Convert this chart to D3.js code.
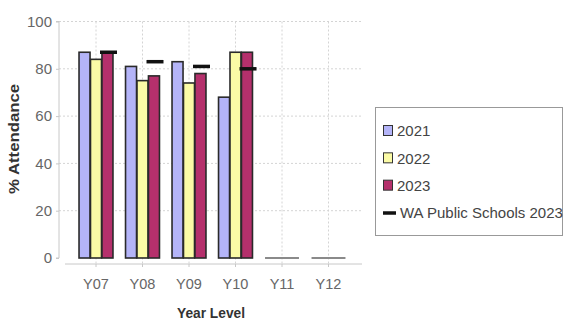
<!DOCTYPE html>
<html>
<head>
<meta charset="utf-8">
<script src="https://cdn.jsdelivr.net/npm/d3@7"></script>
<style>
  html, body { margin: 0; padding: 0; background: #fff; }
  svg { display: block; font-family: "Liberation Sans", Arial, sans-serif; }
</style>
</head>
<body>
<svg id="chart" width="564" height="323"></svg>
<script>
// Attendance by year level
const yearLevels = ["Y07", "Y08", "Y09", "Y10", "Y11", "Y12"];
const seriesNames = ["2021", "2022", "2023"];
const att2021 = [87, 81, 83, 68, 0, 0];
const att2022 = [84, 75, 74, 87, 0, 0];
const att2023 = [87, 77, 78, 87, 0, 0];
const waPublic2023 = [87, 83, 81, 80, null, null];
const yTicks = [0, 20, 40, 60, 80, 100];
const seriesColors = ["#b4b4f8", "#fbfba6", "#b5306c"];
const waLabel = "WA Public Schools 2023";

const seriesValues = [att2021, att2022, att2023];

const svg = d3.select("#chart");

const x = d3.scaleBand()
  .domain(yearLevels)
  .range([72.75, 351.75])
  .paddingInner(0.27)
  .paddingOuter(0.135);

const xSub = d3.scaleBand()
  .domain(seriesNames)
  .range([0, x.bandwidth()])
  .paddingInner(0.04);

const y = d3.scaleLinear().domain([0, 100]).range([258, 21.5]);

const plotLeft = 59, plotRight = 362, axisY = 264;

// dotted horizontal gridlines
svg.append("g").selectAll("line")
  .data(yTicks.filter(d => d > 0))
  .join("line")
  .attr("x1", plotLeft).attr("x2", plotRight)
  .attr("y1", d => y(d)).attr("y2", d => y(d))
  .attr("stroke", "#d4d4d4").attr("stroke-dasharray", "2,2");

// dotted vertical gridlines at category centres
svg.append("g").selectAll("line")
  .data(yearLevels)
  .join("line")
  .attr("x1", d => x(d) + x.bandwidth() / 2).attr("x2", d => x(d) + x.bandwidth() / 2)
  .attr("y1", y(100)).attr("y2", axisY)
  .attr("stroke", "#d4d4d4").attr("stroke-dasharray", "2,2");

// y axis
const yAxis = d3.axisLeft(y).tickValues(yTicks).tickSize(3).tickPadding(4);
const yg = svg.append("g").attr("transform", `translate(${plotLeft},0)`).call(yAxis);
yg.select(".domain").attr("stroke", "#c8c8c8").attr("d", `M-3,${y(100)}H0V${y(0)}H-3`);
yg.selectAll(".tick line").attr("stroke", "#c8c8c8");
yg.selectAll(".tick text")
  .attr("fill", "#666").style("font-size", "15px")
  .style("font-family", "'Liberation Sans', Arial, sans-serif");

// x axis
const xAxis = d3.axisBottom(x).tickSize(3).tickPadding(12);
const xg = svg.append("g").attr("transform", `translate(0,${axisY})`).call(xAxis);
xg.select(".domain").attr("stroke", "#c8c8c8").attr("d", `M65,0H${plotRight}`);
xg.selectAll(".tick line").attr("stroke", "#c8c8c8");
xg.selectAll(".tick text")
  .attr("fill", "#666").style("font-size", "14.5px")
  .style("font-family", "'Liberation Sans', Arial, sans-serif");

// bars
const groups = svg.append("g").selectAll("g")
  .data(yearLevels)
  .join("g")
  .attr("transform", d => `translate(${x(d)},0)`);

groups.selectAll("rect")
  .data((d, i) => seriesNames.map((s, k) => ({ s, k, v: seriesValues[k][i] })))
  .join("rect")
  .attr("x", d => xSub(d.s))
  .attr("width", xSub.bandwidth())
  .attr("y", d => y(d.v))
  .attr("height", d => y(0) - y(d.v))
  .attr("fill", d => seriesColors[d.k])
  .attr("stroke", d => d.v === 0 ? "#999" : "#2a2a2a")
  .attr("stroke-width", d => d.v === 0 ? 1.5 : 1.6);

// empty groups drawn as a flat grey baseline
groups.filter((d, i) => seriesValues.every(arr => arr[i] === 0))
  .append("line")
  .attr("x1", 0).attr("x2", x.bandwidth())
  .attr("y1", y(0)).attr("y2", y(0))
  .attr("stroke", "#8a8a8a").attr("stroke-width", 2);

// WA public schools markers
svg.append("g").selectAll("line")
  .data(yearLevels.map((d, i) => ({ d, v: waPublic2023[i] })).filter(o => o.v != null))
  .join("line")
  .attr("x1", o => x(o.d) + x.bandwidth() / 2 + 4)
  .attr("x2", o => x(o.d) + x.bandwidth() / 2 + 21)
  .attr("y1", o => y(o.v)).attr("y2", o => y(o.v))
  .attr("stroke", "#111").attr("stroke-width", 3.5);

// axis titles
svg.append("text")
  .attr("transform", "translate(19,139) rotate(-90)")
  .attr("text-anchor", "middle")
  .attr("fill", "#333").style("font-weight", "bold").style("font-size", "15px")
  .attr("textLength", 110).attr("lengthAdjust", "spacingAndGlyphs")
  .text("% Attendance");

svg.append("text")
  .attr("x", 211).attr("y", 318)
  .attr("text-anchor", "middle")
  .attr("fill", "#333").style("font-weight", "bold").style("font-size", "15px")
  .attr("textLength", 68).attr("lengthAdjust", "spacingAndGlyphs")
  .text("Year Level");

// legend
const legend = svg.append("g");
legend.append("rect")
  .attr("x", 375.5).attr("y", 107.5).attr("width", 187).attr("height", 128)
  .attr("fill", "#fff").attr("stroke", "#999");

const legendItems = seriesNames.map((s, k) => ({ label: s, color: seriesColors[k], type: "box" }))
  .concat([{ label: waLabel, color: "#111", type: "line" }]);

const ly = d3.scaleLinear().domain([0, 3]).range([131, 213]);

const li = legend.selectAll("g.item")
  .data(legendItems)
  .join("g").attr("class", "item")
  .attr("transform", (d, i) => `translate(0,${ly(i)})`);

li.filter(d => d.type === "box").append("rect")
  .attr("x", 383.5).attr("y", -5.5).attr("width", 9).attr("height", 10)
  .attr("fill", d => d.color).attr("stroke", "#333").attr("stroke-width", 1);

li.filter(d => d.type === "line").append("line")
  .attr("x1", 383).attr("x2", 396).attr("y1", 0).attr("y2", 0)
  .attr("stroke", d => d.color).attr("stroke-width", 3.5);

li.append("text")
  .attr("x", d => d.type === "line" ? 400 : 397).attr("y", 0).attr("dy", "0.36em")
  .attr("fill", "#444").style("font-size", "15px")
  .text(d => d.label);
</script>
</body>
</html>
